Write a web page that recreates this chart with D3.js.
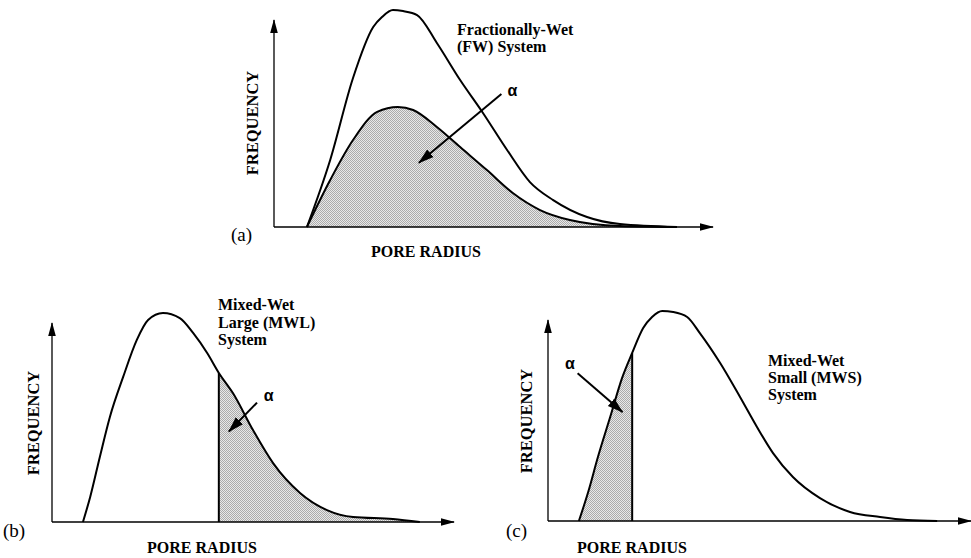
<!DOCTYPE html>
<html>
<head>
<meta charset="utf-8">
<script src="https://cdn.jsdelivr.net/npm/d3@7/dist/d3.min.js"></script>
<style>
  html, body { margin: 0; padding: 0; background: #fff; }
  svg { display: block; }
</style>
</head>
<body>
<svg id="chart" width="971" height="558"></svg>
<script>
// ---------------- DATA (x: pore radius, y: frequency; arbitrary units 0-100) ----------------
const panelLetters = ["(a)", "(b)", "(c)"];
const xTitle = "PORE RADIUS";
const yTitle = "FREQUENCY";
const systemLabels = [
  ["Fractionally-Wet", "(FW) System"],
  ["Mixed-Wet", "Large (MWL)", "System"],
  ["Mixed-Wet", "Small (MWS)", "System"]
];
const alphaLabel = "α";

// (a) total pore-size distribution
const fwTotalX = [7.5, 12.8, 18.0, 22.6, 24.6, 27.1, 29.4, 32.6, 37.1, 42.4, 47.6, 53.1, 58.3, 63.6, 71.3, 78.8, 91.8];
const fwTotalY = [0, 32.4, 72.0, 96.6, 101.4, 104.8, 104.3, 102.4, 88.9, 71.0, 55.1, 37.2, 21.7, 13.0, 4.8, 1.4, 0];
// (a) oil-wet fraction alpha
const fwAlphaX = [7.5, 12.8, 18.0, 23.5, 28.2, 31.7, 37.1, 42.4, 48.5, 54.4, 60.6, 67.4, 78.8, 91.8];
const fwAlphaY = [0, 22.7, 42.0, 55.6, 58.0, 56.5, 48.3, 38.6, 27.5, 16.4, 8.2, 3.4, 0.5, 0];

// (b) mixed-wet large
const mwlX = [7.7, 9.5, 11.9, 14.4, 17.7, 21.1, 23.9, 27.6, 31.8, 35.1, 38.6, 41.5, 45.0, 50.0, 55.0, 61.7, 68.4, 74.9, 84.8, 91.5];
const mwlY = [0, 12.6, 32.7, 52.8, 72.9, 91.5, 101.5, 105.0, 102.5, 95.0, 84.9, 74.9, 64.8, 46.2, 29.6, 14.6, 6.0, 2.5, 1.5, 0];
const mwlCut = 41.5;   // pores larger than this are oil-wet

// (c) mixed-wet small
const mwsX = [7.3, 9.5, 11.8, 14.7, 17.5, 19.9, 22.5, 24.6, 27.0, 29.6, 32.9, 35.9, 40.7, 45.4, 49.4, 53.2, 57.9, 64.3, 71.4, 78.5, 84.9, 92.0];
const mwsY = [0, 14.4, 31.8, 51.7, 71.1, 83.6, 96.0, 101.5, 104.5, 104.0, 101.5, 93.5, 78.6, 61.7, 46.8, 33.8, 21.9, 11.4, 4.5, 2.0, 0.5, 0];
const mwsCut = 19.9;   // pores smaller than this are oil-wet

// ---------------- LAYOUT ----------------
const svg = d3.select("#chart");
const defs = svg.append("defs");

const pat = defs.append("pattern").attr("id", "stipple")
  .attr("width", 2).attr("height", 2).attr("patternUnits", "userSpaceOnUse");
pat.append("rect").attr("width", 2).attr("height", 2).attr("fill", "#e8e8e8");
pat.append("rect").attr("width", 1).attr("height", 1).attr("fill", "#ababab");
pat.append("rect").attr("x", 1).attr("y", 1).attr("width", 1).attr("height", 1).attr("fill", "#ababab");

defs.append("marker").attr("id", "axisHead")
  .attr("markerUnits", "userSpaceOnUse").attr("viewBox", "0 -5 14 10")
  .attr("markerWidth", 14).attr("markerHeight", 10).attr("refX", 13).attr("refY", 0)
  .attr("orient", "auto")
  .append("path").attr("d", "M0,-3.8L14,0L0,3.8Z").attr("fill", "#000");

defs.append("marker").attr("id", "alphaHead")
  .attr("markerUnits", "userSpaceOnUse").attr("viewBox", "0 -6 16 12")
  .attr("markerWidth", 16).attr("markerHeight", 12).attr("refX", 15).attr("refY", 0)
  .attr("orient", "auto")
  .append("path").attr("d", "M0,-5L16,0L0,5Z").attr("fill", "#000");

const panels = [
  { x0: 274, x1: 713, y0: 227, y1: 20, letter: [231, 234], xt: [426, 257], yt: [252, 123],
    sys: [457, 35, 16.5], alphaPos: [54.3, 66.0], arrow: [[51.8, 64.3], [33.0, 31.0]] },
  { x0: 52, x1: 454, y0: 522, y1: 323, letter: [3, 530], xt: [202, 553], yt: [33, 423],
    sys: [218, 310, 17.5], alphaPos: [53.9, 63.6], arrow: [[51.0, 60.0], [44.0, 45.5]] },
  { x0: 548, x1: 971, y0: 521, y1: 320, letter: [506, 530], xt: [632, 553], yt: [526, 421],
    sys: [768, 366, 17.2], alphaPos: [5.2, 78.5], arrow: [[7.0, 73.5], [17.6, 54.2]] }
];

const serif = "'Liberation Serif', 'Times New Roman', serif";

panels.forEach((p, i) => {
  const x = d3.scaleLinear().domain([0, 100]).range([p.x0, p.x1]);
  const y = d3.scaleLinear().domain([0, 100]).range([p.y0, p.y1]);
  const g = svg.append("g");
  const line = d3.line().x(d => x(d[0])).y(d => y(d[1])).curve(d3.curveMonotoneX);
  const area = d3.area().x(d => x(d[0])).y0(y(0)).y1(d => y(d[1])).curve(d3.curveMonotoneX);

  if (i === 0) {
    const alpha = d3.zip(fwAlphaX, fwAlphaY);
    const total = d3.zip(fwTotalX, fwTotalY);
    g.append("path").attr("d", area(alpha)).attr("fill", "url(#stipple)");
    g.append("path").attr("d", line(alpha)).attr("fill", "none").attr("stroke", "#000").attr("stroke-width", 2);
    g.append("path").attr("d", line(total)).attr("fill", "none").attr("stroke", "#000").attr("stroke-width", 2);
  } else {
    const xsArr = i === 1 ? mwlX : mwsX;
    const ysArr = i === 1 ? mwlY : mwsY;
    const cut = i === 1 ? mwlCut : mwsCut;
    const pts = d3.zip(xsArr, ysArr);
    const cutY = ysArr[xsArr.indexOf(cut)];
    const clipId = "clip" + i;
    const cr = defs.append("clipPath").attr("id", clipId).append("rect");
    if (i === 1) {
      cr.attr("x", x(cut)).attr("y", 0).attr("width", x(100) - x(cut)).attr("height", 558);
    } else {
      cr.attr("x", x(0)).attr("y", 0).attr("width", x(cut) - x(0)).attr("height", 558);
    }
    g.append("path").attr("d", area(pts)).attr("fill", "url(#stipple)").attr("clip-path", `url(#${clipId})`);
    g.append("path").attr("d", line(pts)).attr("fill", "none").attr("stroke", "#000").attr("stroke-width", 2);
    g.append("line").attr("x1", x(cut)).attr("x2", x(cut)).attr("y1", y(0)).attr("y2", y(cutY))
      .attr("stroke", "#000").attr("stroke-width", 2);
  }

  // axes
  g.append("line").attr("x1", x(0)).attr("y1", y(0)).attr("x2", x(100)).attr("y2", y(0))
    .attr("stroke", "#000").attr("stroke-width", 1.6).attr("marker-end", "url(#axisHead)");
  g.append("line").attr("x1", x(0)).attr("y1", y(0)).attr("x2", x(0)).attr("y2", y(100))
    .attr("stroke", "#000").attr("stroke-width", 1.3).attr("marker-end", "url(#axisHead)");

  // alpha arrow
  g.append("line")
    .attr("x1", x(p.arrow[0][0])).attr("y1", y(p.arrow[0][1]))
    .attr("x2", x(p.arrow[1][0])).attr("y2", y(p.arrow[1][1]))
    .attr("stroke", "#000").attr("stroke-width", 2).attr("marker-end", "url(#alphaHead)");
  g.append("text").attr("x", x(p.alphaPos[0])).attr("y", y(p.alphaPos[1]))
    .attr("text-anchor", "middle").attr("dominant-baseline", "central")
    .attr("font-family", "'Liberation Sans', Arial, sans-serif").attr("font-weight", "bold")
    .attr("font-size", 16).text(alphaLabel);

  // system label
  const st = g.append("text").attr("x", p.sys[0]).attr("y", p.sys[1])
    .attr("font-family", serif).attr("font-weight", "bold").attr("font-size", 16);
  systemLabels[i].forEach((s, k) => {
    st.append("tspan").attr("x", p.sys[0]).attr("dy", k === 0 ? 0 : p.sys[2]).text(s);
  });

  // titles
  g.append("text").attr("x", p.xt[0]).attr("y", p.xt[1]).attr("text-anchor", "middle")
    .attr("font-family", serif).attr("font-weight", "bold").attr("font-size", 16).text(xTitle);
  g.append("text").attr("transform", `translate(${p.yt[0]},${p.yt[1]}) rotate(-90)`)
    .attr("text-anchor", "middle").attr("dominant-baseline", "central")
    .attr("font-family", serif).attr("font-weight", "bold").attr("font-size", 16.5).text(yTitle);
  g.append("text").attr("x", p.letter[0]).attr("y", p.letter[1])
    .attr("dominant-baseline", "central")
    .attr("font-family", serif).attr("font-size", 19).text(panelLetters[i]);
});
</script>
</body>
</html>
